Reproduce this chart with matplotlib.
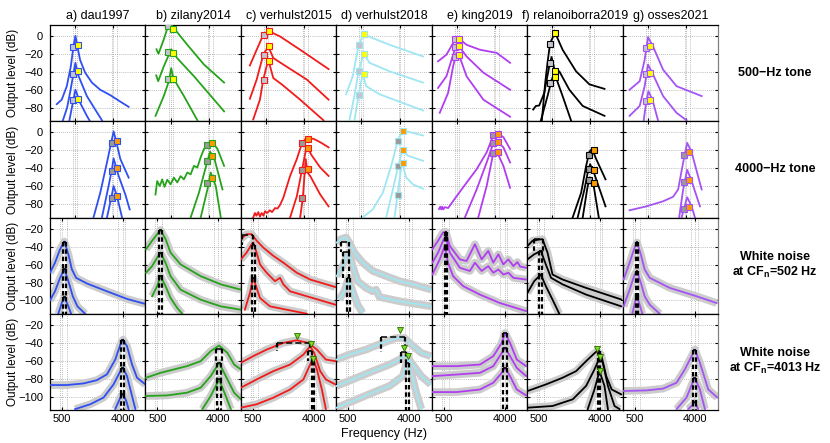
import numpy as np
import matplotlib.pyplot as plt

plt.rcParams['font.family'] = ['Liberation Sans', 'DejaVu Sans']
plt.rcParams['mathtext.fontset'] = 'custom'
plt.rcParams['mathtext.rm'] = 'Liberation Sans'
plt.rcParams['mathtext.bf'] = 'Liberation Sans:bold'
plt.rcParams['lines.solid_joinstyle'] = 'round'

titles = ['a) dau1997', 'b) zilany2014', 'c) verhulst2015', 'd) verhulst2018',
          'e) king2019', 'f) relanoiborra2019', 'g) osses2021']
colors = ['#2f4ff2', '#27a31b', '#f21b1b', '#9fe6f3', '#b03ef0', '#000000', '#a354f2']
row_labels = ['500\u2212Hz tone', '4000\u2212Hz tone',
              'White noise\nat CF$_\\mathbf{n}$=502 Hz',
              'White noise\nat CF$_\\mathbf{n}$=4013 Hz']

# ---------------- row 1: 500-Hz tone, curves as (Hz, dB) ----------------
dau_t500 = [
    [(83, -76), (164, -71), (267, -56), (368, -34), (444, -12), (509, 0), (580, -12), (688, -27),
     (926, -41), (1346, -52), (2083, -60), (3444, -66), (5165, -72), (8335, -79)],
    [(180, -95), (274, -80), (362, -60), (444, -42), (509, -30), (588, -42), (688, -49), (1020, -67),
     (1606, -82), (2280, -94)],
    [(330, -94), (425, -74.5), (509, -60), (688, -74.5), (1020, -89), (1180, -94)],
]
zil_t500 = [
    [(152, -15), (189, -20), (304, -4), (413, 10), (499, 13), (619, 8.5), (1346, -10), (3168, -32), (8335, -52)],
    [(147, -44), (183, -50.5), (304, -34), (522, -15), (763, -25), (1910, -45), (8335, -84)],
    [(135, -89), (304, -67), (444, -50.5), (522, -36), (595, -47), (1117, -67), (2280, -94)],
]
v15_t500 = [
    [(118, -33), (245, -15.5), (413, 1), (580, 5.5), (1161, -0.7), (3279, -15.5), (12758, -37)],
    [(118, -70), (245, -48.7), (413, -21), (580, -11.8), (790, -24.7), (1390, -32), (4555, -48.7), (12758, -71)],
    [(175, -93), (322, -71), (413, -48.7), (580, -26.6), (790, -47), (1276, -54), (3279, -71), (10077, -94)],
]
v18_t500 = [
    [(130, -65), (258, -45), (413, -10), (580, 1.8), (998, -2.6), (2430, -10), (12180, -23)],
    [(189, -94), (297, -67), (413, -38.7), (580, -20), (825, -30), (2430, -39.5), (12180, -52)],
    [(297, -94), (413, -66), (544, -42), (675, -56), (1444, -65), (12180, -83)],
]
king_t500 = [
    [(77, -28.4), (222, -21), (384, -8), (466, -3.7), (580, -3.3), (910, -10), (1880, -15.5), (4335, -19), (8216, -30)],
    [(77, -58), (222, -45), (384, -21), (466, -12), (580, -11.8), (910, -23), (2240, -41), (8216, -60)],
    [(102, -85.6), (258, -63.5), (384, -34), (489, -18.5), (580, -21.8), (910, -45), (2240, -71), (8216, -90)],
]
rel_t500 = [
    [(222, -94), (297, -52), (356, -30), (425, -9), (595, 3.7), (942, -15.5), (1947, -39.5), (3800, -54), (7836, -59)],
    [(73, -82), (113, -78), (170, -77.5), (274, -63.5), (404, -34), (476, -23.6), (580, -38), (777, -39.5),
     (1369, -60), (2726, -78), (7836, -89)],
    [(202, -94), (356, -67), (456, -52), (544, -43), (634, -46.5), (942, -67), (1495, -94)],
]
oss_t500 = [
    [(87, -60), (274, -50.5), (404, -26.6), (509, -1.5), (700, -11.8), (1247, -37.6), (2515, -56), (8500, -67)],
    [(87, -89), (274, -78), (404, -56), (509, -32), (700, -43), (1247, -67), (2515, -85.6), (4130, -94)],
    [(376, -94), (434, -78), (522, -61.6), (675, -71), (942, -94)],
]
# square markers: [grey levels], [yellow levels]
dau_t500_sq = [[-12.5, -42, -71.6], [-10, -39.5, -70]]
zil_t500_sq = [[11, -18.5, -48], [7.7, -19, -48]]
v15_t500_sq = [[1.1, -21, -48.7], [4.8, -11.8, -27.7]]
v18_t500_sq = [[-10.7, -38.7, -66], [1.8, -20, -42]]
king_t500_sq = [[-3.7, -12.5, -23.6], [-3.3, -11.8, -21.8]]
rel_t500_sq = [[-9.2, -30, -52.4], [3, -38.7, -45.8]]
oss_t500_sq = [[-13.7, -43, -72.7], [-11, -41.3, -71]]

# ---------------- row 2: 4000-Hz tone ----------------
dau_t4k = [
    [(1466, -95), (2083, -67.6), (2925, -33.8), (3617, -11.3), (4050, 0.7), (4553, -9.4), (5603, -30), (8335, -50.7)],
    [(2270, -95), (3168, -60), (3745, -41), (4050, -29.3), (5165, -48.8), (7122, -69.5), (8740, -86)],
    [(2925, -95), (3617, -73), (4050, -60), (4780, -71.4), (6080, -95)],
]
zil_t4k = [
    [(135, -69.5), (164, -54.5), (214, -60), (267, -52.6), (322, -61), (396, -53), (499, -58), (619, -50.7),
     (763, -56), (926, -49), (1117, -52.6), (1346, -45), (1606, -47), (1910, -37.6), (2270, -39.4),
     (2686, -28), (3168, -18.8), (3855, -13), (4780, -11.3), (6080, -18.8), (8335, -37.6)],
    [(1606, -95), (2455, -67.6), (3444, -39.4), (4255, -21.8), (5165, -28.2), (7720, -63.8)],
    [(2686, -95), (3745, -63.8), (4400, -45), (5603, -60), (7122, -95)],
]
v15_t4k = [
    [(175, -95), (208, -90), (240, -93), (281, -89), (322, -94), (367, -90), (419, -93), (466, -88), (533, -90),
     (646, -87), (731, -89), (875, -84.5), (1010, -85), (1161, -81), (1390, -73), (1979, -48.8), (2780, -30),
     (3560, -13), (4400, -6.8), (6260, -7.5), (8617, -11.3), (12758, -17)],
    [(1979, -95), (2780, -71.4), (3560, -43), (4510, -15.8), (5800, -26.3), (8617, -39.4), (12758, -48.8)],
    [(3279, -95), (3745, -73), (4300, -30), (4700, -45), (5342, -48.8), (8617, -69.5), (12758, -82.6)],
]
v18_t4k = [
    [(544, -95), (998, -86), (1720, -67.6), (2640, -37.6), (3670, -9.4), (4553, 1.9), (6475, 0), (12180, -3.8)],
    [(2050, -95), (2865, -63.8), (3670, -39.4), (4553, -20.7), (5970, -26.3), (12180, -32)],
    [(3121, -95), (3617, -69.5), (4466, -33.8), (5525, -50.7), (7580, -58.2), (12180, -63)],
]
king_t4k = [
    [(91, -85.6), (110, -83), (126, -86), (143, -83), (161, -86), (189, -83.5), (258, -84.5), (489, -71.4),
     (910, -56.3), (1582, -41.3), (2646, -22.5), (3670, -3.8), (4335, -1.1), (5970, -5.6), (8216, -18.8)],
    [(825, -95), (1582, -63.8), (2646, -33.8), (3670, -12.4), (4191, -9.4), (5970, -17), (8216, -33.8)],
    [(1720, -95), (2646, -60), (3670, -23.3), (4191, -19.5), (5970, -37.6), (8216, -62)],
]
rel_t4k = [
    [(1630, -95), (2515, -67.6), (3230, -37.6), (3800, -21.8), (4335, -18.8), (5265, -30), (8216, -52.6)],
    [(2115, -95), (2970, -63.8), (3495, -45), (3930, -35.7), (4848, -47), (8216, -82.6)],
    [(2726, -95), (3393, -63.8), (3800, -50.7), (4620, -58.2), (5970, -95)],
]
oss_t4k = [
    [(87, -87), (456, -82.6), (1247, -77), (2115, -72), (2726, -63.8), (3495, -33.8), (4255, -12), (5265, -22.5), (8500, -63.8)],
    [(2865, -95), (3495, -63.8), (4255, -42), (5265, -54.5), (7836, -82.6)],
    [(3230, -95), (3745, -82.6), (4255, -72.5), (5265, -82.6), (6170, -95)],
]
dau_t4k_sq = [[-12, -43, -73], [-9.4, -40, -70.6]]
zil_t4k_sq = [[-14.3, -32, -57], [-12.4, -27, -50.7]]
v15_t4k_sq = [[-12.4, -42.4, -73], [-7.5, -17.7, -40.6]]
v18_t4k_sq = [[-9.4, -38.3, -69.5], [1.5, -19.5, -34.6]]
king_t4k_sq = [[-3, -12.4, -23.3], [-1.9, -11.3, -21.8]]
rel_t4k_sq = [[-25.5, -40.6, -53.7], [-19.5, -42.4, -57]]
oss_t4k_sq = [[-25, -55.6, -85.6], [-22.5, -53, -83]]

sq_freq = [(430, 590), (3680, 4720)]

# ---------------- row 3: white noise, CF 502 Hz ----------------
dau_n502 = [
    [(287, -69), (367, -57.7), (461, -42.6), (552, -34), (648, -48.3), (739, -65), (867, -74.7), (1265, -81),
     (2440, -89.8), (4540, -98.4), (7880, -104)],
    [(287, -100), (367, -89.8), (461, -74.7), (552, -65), (648, -78.4), (767, -95.4), (910, -106.7), (1194, -115)],
    [(427, -115), (495, -103), (552, -96), (648, -106.7), (719, -115)],
]
zil_n502 = [
    [(297, -42.6), (397, -33), (495, -25.7), (567, -21), (692, -31), (836, -46.4), (1194, -59.6), (2313, -72.8),
     (4310, -82), (7880, -88)],
    [(297, -69), (397, -61.5), (495, -52), (567, -46.4), (692, -57.7), (836, -72.8), (1194, -88), (2313, -99.2),
     (4310, -106.7), (7880, -110.5)],
    [(397, -95.4), (495, -84), (567, -72.8), (692, -84), (836, -97.3), (1065, -108.6), (1265, -115)],
]
v15_n502 = [
    [(287, -31.3), (380, -25.7), (475, -25.7), (584, -33), (755, -40.7), (1087, -50), (1530, -57.7), (2365, -69),
     (3585, -76.6), (7650, -85)],
    [(287, -54), (380, -46.4), (475, -37), (507, -35), (584, -46.4), (666, -59.6), (857, -69), (1152, -78.4),
     (1369, -74.7), (1530, -82), (1907, -89.8), (3240, -95.4), (7650, -104.8)],
    [(350, -110.5), (441, -91.6), (507, -74.7), (584, -86), (666, -97.3), (967, -106.7), (3240, -115)],
]
v18_n502 = [
    [(292, -35), (362, -31.3), (455, -29.4), (522, -35), (640, -46.4), (877, -57.7), (1248, -67), (1950, -72.8),
     (2975, -78.4), (4483, -82), (7810, -88)],
    [(292, -72.8), (391, -61.5), (487, -48.3), (522, -46.4), (598, -61.5), (727, -78.4), (990, -86), (1248, -89.8),
     (1400, -88), (1566, -96.2), (2975, -101), (7810, -106.7)],
    [(334, -99), (421, -89.8), (507, -74.7), (598, -89.8), (727, -105), (877, -114)],
]
king_n502 = [
    [(297, -42.6), (391, -33), (487, -23.8), (545, -23), (640, -38.9), (933, -54), (1180, -55.8), (1566, -37),
     (1950, -54), (2410, -44.5), (2822, -57.7), (3300, -48.3), (3850, -59.6), (4483, -54), (5218, -61.5),
     (5900, -57), (6388, -62), (7649, -63.4)],
    [(297, -57.7), (391, -46.4), (501, -31.3), (545, -29.4), (640, -46.4), (933, -63.4), (1323, -67), (1566, -57.7),
     (1950, -67), (2410, -61.5), (2822, -69), (3300, -65.3), (3850, -71), (4483, -69), (5218, -74.7), (7649, -76.6)],
    [(297, -71), (421, -54), (522, -38.9), (598, -57.7), (727, -72.8), (1050, -84), (1846, -93.5), (3475, -103),
     (7649, -112)],
]
rel_n502 = [
    [(292, -38.9), (372, -33.2), (467, -32), (574, -31.3), (700, -46.4), (845, -71), (1206, -76.6), (2600, -86),
     (7580, -99)],
    [(292, -54), (403, -48.3), (538, -44.5), (655, -59.6), (800, -74.7), (1206, -82), (2600, -93.5), (7580, -106.7)],
    [(292, -91.6), (403, -78.4), (538, -71), (655, -84), (845, -99.2), (1076, -115)],
]
oss_n502 = [
    [(302, -76.6), (403, -57.7), (501, -40.7), (552, -35), (632, -46.4), (747, -65.3), (900, -74.7), (1787, -86),
     (4145, -95.4), (7580, -103)],
    [(302, -106.7), (403, -88), (501, -71), (552, -67), (632, -78.4), (747, -95.4), (900, -104.8), (1278, -115)],
    [(455, -115), (515, -101), (552, -95.4), (615, -104.8), (684, -115)],
]
# bandwidth brackets: (f_lo, f_hi, level)
dau_n502_bw = [(529, 584, -34), (529, 584, -65), (529, 584, -96)]
zil_n502_bw = [(545, 603, -21), (545, 603, -46.4), (545, 603, -72.8)]
v15_n502_bw = [(297, 507, -26.8), (475, 545, -38), (475, 545, -74.7)]
v18_n502_bw = [(362, 522, -35), (395, 522, -46), (480, 530, -74.7)]
king_n502_bw = [(522, 567, -23), (522, 567, -29.4), (522, 567, -39)]
rel_n502_bw = [(403, 591, -31.3), (501, 560, -44.5), (501, 560, -71)]
oss_n502_bw = [(525, 580, -35), (525, 580, -67), (525, 580, -95.4)]

# ---------------- row 4: white noise, CF 4013 Hz ----------------
dau_n4k = [
    [(287, -87), (608, -87), (1128, -85.2), (1770, -81.5), (2440, -75), (3167, -58.4), (3698, -41.6), (4020, -36),
     (4540, -43.5), (5280, -64), (6140, -78.8), (7880, -86.3)],
    [(836, -114), (1416, -108.6), (2195, -101), (3000, -86.3), (3698, -71.4), (4020, -67.7), (4540, -77),
     (5280, -99.3), (5837, -114)],
    [(3167, -114), (3698, -101), (4020, -97.5), (4443, -105), (4760, -114)],
]
zil_n4k = [
    [(297, -78.8), (567, -73.3), (943, -69.5), (1480, -65.8), (2313, -60.2), (3167, -49), (4095, -42.7),
     (5280, -51), (6450, -64), (7880, -69.5)],
    [(297, -99.3), (738, -98.6), (1480, -95.6), (2313, -90), (3167, -77), (4095, -62), (5017, -77), (6450, -95.6),
     (7880, -103)],
    [(2440, -114), (3167, -99.3), (4095, -80.7), (5017, -99.3), (5837, -114)],
]
v15_n4k = [
    [(287, -62), (507, -54.6), (857, -47.2), (1530, -39.7), (2365, -36.8), (3400, -39.7), (4400, -47.2),
     (5770, -58.4), (7650, -60.2)],
    [(287, -90), (584, -80.7), (1087, -71.4), (1907, -64), (2910, -52.8), (3585, -43.5), (4057, -51), (4866, -71.4),
     (5770, -80.7), (7650, -86.3)],
    [(287, -112.4), (584, -108.6), (1087, -101.2), (1907, -92), (2910, -80.7), (3585, -64), (3900, -56.5),
     (4400, -69.5), (5120, -92), (5770, -114)],
]
v18_n4k = [
    [(292, -58.4), (522, -52.8), (990, -47.2), (1750, -39.7), (2680, -34.2), (3475, -34.2), (4270, -41.6),
     (5780, -51), (7650, -54.6)],
    [(292, -88), (598, -80.7), (1248, -71.4), (2171, -64), (2975, -58.4), (3660, -52.8), (4270, -62), (5780, -77),
     (7650, -86.3)],
    [(292, -112.4), (598, -105), (1248, -95.6), (2171, -88), (3300, -77), (3780, -58.4), (4270, -73.3),
     (4970, -95.6), (5780, -114)],
]
king_n4k = [
    [(297, -65.8), (827, -65.8), (1846, -64), (2822, -54.6), (3660, -39.7), (4057, -28.6), (4720, -39.7),
     (5780, -58.4), (7650, -65.8)],
    [(297, -77), (827, -75.2), (1846, -73.3), (2822, -65.8), (3660, -51), (4057, -45.3), (4720, -54.6),
     (5780, -67.7), (7650, -77)],
    [(297, -94.9), (827, -94.9), (1846, -92), (2822, -84.4), (3660, -73.3), (4057, -67.7), (4720, -77),
     (5780, -92), (7650, -98.6)],
]
rel_n4k = [
    [(292, -93.7), (658, -86.3), (1206, -78.8), (1890, -71.4), (2600, -60.2), (3230, -52.8), (3620, -49),
     (4140, -52.8), (4830, -77), (5700, -92), (7580, -97.5)],
    [(292, -112.4), (845, -110.5), (1695, -103), (2600, -88), (3370, -69.5), (3933, -56.5), (4350, -62),
     (5080, -88), (6198, -110.5), (7203, -114)],
    [(2735, -114), (3370, -92), (3933, -71.4), (4579, -88), (5080, -114)],
]
oss_n4k = [
    [(302, -93.7), (796, -93), (1430, -91), (2220, -84.4), (2883, -69.5), (3550, -54.6), (3933, -47.2),
     (4579, -62), (5890, -91.9), (7720, -101)],
    [(2220, -114), (3040, -101), (3660, -84.4), (3933, -78.8), (4579, -92), (5329, -114)],
    [(3200, -114), (3740, -108.6), (3933, -106), (4350, -114)],
]
dau_n4k_bw = [(3780, 4160, -36), (3780, 4160, -67.7), (3780, 4160, -97.5)]
zil_n4k_bw = [(3698, 4540, -46.4), (3814, 4310, -62), (3814, 4310, -80.7)]
v15_n4k_bw = [(1250, 3585, -39.7), (3400, 3780, -49), (3820, 4060, -60)]
v18_n4k_bw = [(1640, 3550, -33), (3140, 3660, -50), (3660, 3930, -62)]
king_n4k_bw = [(3850, 4270, -28.6), (3850, 4270, -45.3), (3850, 4270, -67.7)]
rel_n4k_bw = [(3745, 4057, -49), (3745, 4057, -56.5), (3745, 4057, -71.4)]
oss_n4k_bw = [(3745, 4057, -47.2), (3745, 4057, -78.8), (3745, 4057, -106)]
# best-frequency triangles
v15_n4k_tri = [(2410, -31.5), (3698, -40.9), (3900, -57.6)]
v18_n4k_tri = [(2975, -25.6), (3400, -45.3), (3860, -54.6)]
rel_n4k_tri = [(3620, -46.4), (4020, -55.8), (4020, -70.7)]

curves_rows = [
    [dau_t500, zil_t500, v15_t500, v18_t500, king_t500, rel_t500, oss_t500],
    [dau_t4k, zil_t4k, v15_t4k, v18_t4k, king_t4k, rel_t4k, oss_t4k],
    [dau_n502, zil_n502, v15_n502, v18_n502, king_n502, rel_n502, oss_n502],
    [dau_n4k, zil_n4k, v15_n4k, v18_n4k, king_n4k, rel_n4k, oss_n4k],
]
squares_rows = [
    [dau_t500_sq, zil_t500_sq, v15_t500_sq, v18_t500_sq, king_t500_sq, rel_t500_sq, oss_t500_sq],
    [dau_t4k_sq, zil_t4k_sq, v15_t4k_sq, v18_t4k_sq, king_t4k_sq, rel_t4k_sq, oss_t4k_sq],
]
bw_rows = [
    [dau_n502_bw, zil_n502_bw, v15_n502_bw, v18_n502_bw, king_n502_bw, rel_n502_bw, oss_n502_bw],
    [dau_n4k_bw, zil_n4k_bw, v15_n4k_bw, v18_n4k_bw, king_n4k_bw, rel_n4k_bw, oss_n4k_bw],
]
tri_row4 = [None, None, v15_n4k_tri, v18_n4k_tri, None, rel_n4k_tri, None]


def erb(f):
    f = np.asarray(f, dtype=float)
    with np.errstate(invalid='ignore', divide='ignore'):
        return 21.4 * np.log10(1 + 0.00437 * f)


def erb_inv(e):
    e = np.asarray(e, dtype=float)
    return (10 ** (e / 21.4) - 1) / 0.00437


W, H = 830, 443
x0, cw = 50, 95.43
y0, rh = 25, 96.25

fig = plt.figure(figsize=(8.3, 4.43), dpi=100)

for r in range(4):
    tone = r < 2
    if tone:
        ylim, yt = (-95, 12), [0, -20, -40, -60, -80]
        xlim, gridf = (0, 18300), [434, 569, 3800, 4850]
    else:
        ylim, yt = (-115, -7), [-20, -40, -60, -80, -100]
        xlim, gridf = (287, 7880), [461, 615, 3475, 4310]
    for c in range(7):
        ax = fig.add_axes([(x0 + c * cw) / W, 1 - (y0 + (r + 1) * rh) / H, cw / W, rh / H])
        ax.set_xscale('function', functions=(erb, erb_inv))
        col = colors[c]
        curves = curves_rows[r][c]

        if tone:
            for cur in curves:
                f, db = zip(*cur)
                ax.plot(f, db, color=col, lw=1.3, zorder=3)
            grey_lv, col_lv = squares_rows[r][c]
            fg, fc = sq_freq[r]
            ax.plot([fg] * 3, grey_lv, 's', ms=4.2, mfc='#c4c4d0' if r == 0 else '#9a9a9a',
                    mec=col, mew=0.8, zorder=5)
            ax.plot([fc] * 3, col_lv, 's', ms=4.2, mfc='#ffff00' if r == 0 else '#ff9a00',
                    mec=col, mew=0.8, zorder=5)
        else:
            for cur in curves:
                f, db = zip(*cur)
                ax.plot(f, db, color='#cccccc', lw=5.5, solid_capstyle='butt', zorder=2)
            for cur in curves:
                f, db = zip(*cur)
                ax.plot(f, db, color=col, lw=1.3, zorder=3)
            bw = bw_rows[r - 2][c]
            for k, (flo, fhi, lv) in enumerate(bw):
                low = bw[k + 1][2] if k + 1 < len(bw) else ylim[0]
                ax.plot([flo, fhi], [lv, lv], color='k', lw=1.1, ls=(0, (4, 2)), zorder=4)
                ax.plot([flo, flo], [lv, low], color='k', lw=1.6, ls=(0, (2, 1.3)), zorder=4)
                ax.plot([fhi, fhi], [lv, low], color='k', lw=1.6, ls=(0, (2, 1.3)), zorder=4)
            if r == 3 and tri_row4[c] is not None:
                tf, tdb = zip(*tri_row4[c])
                ax.plot(tf, tdb, 'v', ms=5, mfc='#7ddc1f', mec='#2a6a00', mew=0.6, zorder=6)

        ax.set_xlim(*xlim)
        ax.set_ylim(*ylim)
        ax.set_xticks([500, 4000])
        ax.set_xticks(gridf, minor=True)
        ax.set_yticks(yt)
        ax.grid(True, which='both', axis='x', color='#a8a8a8', ls=(0, (1, 1.5)), lw=0.6)
        ax.grid(True, which='major', axis='y', color='#a8a8a8', ls=(0, (1, 1.5)), lw=0.6)
        ax.set_axisbelow(True)
        ax.tick_params(which='minor', length=0)
        ax.tick_params(which='major', direction='in', length=2.5, top=True, right=True,
                       labelsize=8, pad=3)
        ax.tick_params(axis='y', pad=5)
        for sp in ax.spines.values():
            sp.set_linewidth(0.9)
        if c == 6:
            ax.spines['right'].set_color('#808080')
        if c > 0:
            ax.set_yticklabels([])
        if r < 3:
            ax.set_xticklabels([])
        else:
            ax.set_xticklabels(['500', '4000'])
        if r == 0:
            ax.set_title(titles[c], fontsize=9, pad=4)

    yc = y0 + (r + 0.5) * rh
    fig.text(13 / W, 1 - yc / H, 'Output level (dB)', rotation=90, ha='center', va='center', fontsize=8.5)
    fig.text(775 / W, 1 - yc / H, row_labels[r], ha='center', va='center', fontsize=9,
             fontweight='bold', linespacing=1.15)

fig.text(384 / W, 1 - 434 / H, 'Frequency (Hz)', ha='center', va='center', fontsize=9)

fig.savefig('out.png', dpi=100)
